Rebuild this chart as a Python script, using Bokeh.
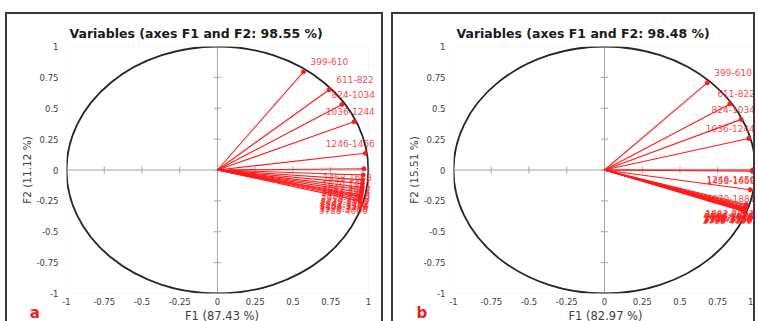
from bokeh.plotting import figure
from bokeh.models import Range1d, FixedTicker, ColumnDataSource, LabelSet, Label, BoxAnnotation
from bokeh.core.properties import value
from bokeh.layouts import row
from bokeh.embed import file_html
from bokeh.resources import INLINE

# ---------------- data ----------------
variables = ["399-610", "611-822", "824-1034", "1036-1244", "1246-1456",
             "1458-1668", "1670-1881", "1882-2092", "2094-2304", "2306-2516",
             "2518-2728", "2730-2940", "2942-3152", "3154-3364", "3366-3576",
             "3578-3788", "3788-4000"]

# panel a : F1 (87.43 %) / F2 (11.12 %)
a_f1 = [0.57, 0.74, 0.825, 0.905, 0.98, 0.970, 0.965, 0.962, 0.960, 0.958,
        0.955, 0.952, 0.950, 0.948, 0.946, 0.944, 0.942]
a_f2 = [0.795, 0.65, 0.53, 0.39, 0.135, 0.01, -0.04, -0.08, -0.11, -0.14,
        -0.16, -0.18, -0.20, -0.21, -0.22, -0.235, -0.25]

# panel b : F1 (82.97 %) / F2 (15.51 %)
b_f1 = [0.68, 0.83, 0.905, 0.955, 0.98, 0.978, 0.965, 0.940, 0.937, 0.935,
        0.933, 0.931, 0.929, 0.927, 0.925, 0.923, 0.921]
b_f2 = [0.705, 0.535, 0.41, 0.255, 0.0, -0.01, -0.16, -0.28, -0.29, -0.30,
        -0.305, -0.31, -0.315, -0.32, -0.325, -0.33, -0.335]

tick_values = [-1, -0.75, -0.5, -0.25, 0, 0.25, 0.5, 0.75, 1]
tick_labels = ["-1", "-0.75", "-0.5", "-0.25", "0", "0.25", "0.5", "0.75", "1"]

titles = ["Variables (axes F1 and F2: 98.55 %)", "Variables (axes F1 and F2: 98.48 %)"]
x_titles = ["F1 (87.43 %)", "F1 (82.97 %)"]
y_titles = ["F2 (11.12 %)", "F2 (15.51 %)"]
letters = ["a", "b"]

# ---------------- style ----------------
FONT = "DejaVu Sans"
RED = "#ff1a1a"
GRAY = "#a6a6a6"
PX_X = 149.0      # pixels per unit on F1
FRAME_H = 243
PX_Y = FRAME_H / 2.0
BORDER = 2
B_TOP, B_BOTTOM = 32, 29
LABEL_PX = 9


def label_positions(f1, f2, names, limit):
    lx, ly, al = [], [], []
    for x, y, n in zip(f1, f2, names):
        nd = sum(c.isdigit() for c in n)
        w = (nd * 0.636 + 0.361) * LABEL_PX / PX_X
        if y > 0.05:
            start = x + 7 / PX_X
            if start + w > limit:
                start = limit - w
            lx.append(start)
            ly.append(y + 10 / PX_Y)
            al.append("left")
        else:
            lx.append(min(x + 8 / PX_X, limit))
            ly.append(y - 9 / PX_Y)
            al.append("right")
    return lx, ly, al


def make_panel(i, f1, f2, frame_w, b_left, b_right):
    x_end = -1 + frame_w / PX_X
    p = figure(frame_width=frame_w, frame_height=FRAME_H, output_backend="svg",
               toolbar_location=None,
               x_range=Range1d(-1, x_end), y_range=Range1d(-1, 1),
               min_border_left=b_left, min_border_right=b_right,
               min_border_top=B_TOP, min_border_bottom=B_BOTTOM,
               styles={"border": f"{BORDER}px solid #3a3a3a"})
    p.title.text = titles[i]
    p.title.text_font = FONT
    p.title.text_font_size = "12.5px"
    p.title.text_font_style = "bold"
    p.title.text_color = "#1a1a1a"
    p.title.align = "left"
    p.title.offset = 3
    p.title.standoff = 11

    p.grid.visible = False
    p.outline_line_color = None
    p.add_layout(BoxAnnotation(left=-1, right=1, bottom=-1, top=1, fill_color=None,
                               line_color="#d9d9d9", line_width=1))

    for ax in (p.xaxis[0], p.yaxis[0]):
        ax.ticker = FixedTicker(ticks=tick_values)
        ax.major_label_overrides = dict(zip(tick_values, tick_labels))
        ax.major_tick_line_color = None
        ax.minor_tick_line_color = None
        ax.major_tick_out = 0
        ax.major_tick_in = 0
        ax.minor_tick_out = 0
        ax.axis_line_color = None
        ax.major_label_text_font = FONT
        ax.major_label_text_font_size = "8.5px"
        ax.major_label_text_color = "#404040"
        ax.axis_label_text_font = FONT
        ax.axis_label_text_font_style = "normal"
        ax.axis_label_text_color = "#404040"
    p.xaxis.axis_label = x_titles[i]
    p.xaxis.axis_label_text_font_size = "11.5px"
    p.xaxis.major_label_standoff = 4
    p.xaxis.axis_label_standoff = 1
    p.yaxis.axis_label = y_titles[i]
    p.yaxis.axis_label_text_font_size = "10.5px"
    p.yaxis.major_label_standoff = 8
    p.yaxis.axis_label_standoff = 1

    # zero axes with small tick marks
    p.segment(x0=[0, -1], y0=[-1, 0], x1=[0, 1], y1=[1, 0], line_color=GRAY, line_width=1)
    zeros = [0] * len(tick_values)
    p.scatter(x=zeros, y=tick_values, marker="dash", size=7, line_color=GRAY)
    p.scatter(x=tick_values, y=zeros, marker="dash", size=7, angle=1.5708, line_color=GRAY)

    # correlation circle
    p.ellipse(x=0, y=0, width=2, height=2, fill_color=None, line_color="#262626", line_width=1.8)

    # vectors
    src = ColumnDataSource(dict(x0=[0] * len(f1), y0=[0] * len(f1), x=f1, y=f2))
    p.segment(x0="x0", y0="y0", x1="x", y1="y", source=src, line_color=RED, line_width=1.1)
    p.scatter(x="x", y="y", source=src, size=4, marker="circle", fill_color=RED, line_color=RED)

    lx, ly, al = label_positions(f1, f2, variables, x_end - 2 / PX_X)
    for align in ("left", "right"):
        idx = [k for k, a in enumerate(al) if a == align]
        lsrc = ColumnDataSource(dict(x=[lx[k] for k in idx], y=[ly[k] for k in idx],
                                     t=[variables[k] for k in idx]))
        p.add_layout(LabelSet(x="x", y="y", text="t", source=lsrc, text_align=align,
                              text_baseline="middle", text_font=value(FONT),
                              text_font_size=f"{LABEL_PX}px", text_color=RED, text_alpha=0.85))

    # panel letter, placed in the left side panel so it is not clipped to the frame
    p.add_layout(Label(x=-1.21, y=-1 - (B_BOTTOM - 10) / PX_Y, text=letters[i],
                       text_color="#ee1c1c", text_font=FONT, text_font_style="bold",
                       text_font_size="15px", text_align="center", text_baseline="middle"),
                 "left")
    return p


p1 = make_panel(0, a_f1, a_f2, 307, 58, 8)
p2 = make_panel(1, b_f1, b_f2, 300, 58, 0)
layout = row(p1, p2, spacing=8, margin=(12, 0, 0, 5))

open("out.html", "w").write(file_html(layout, INLINE))
